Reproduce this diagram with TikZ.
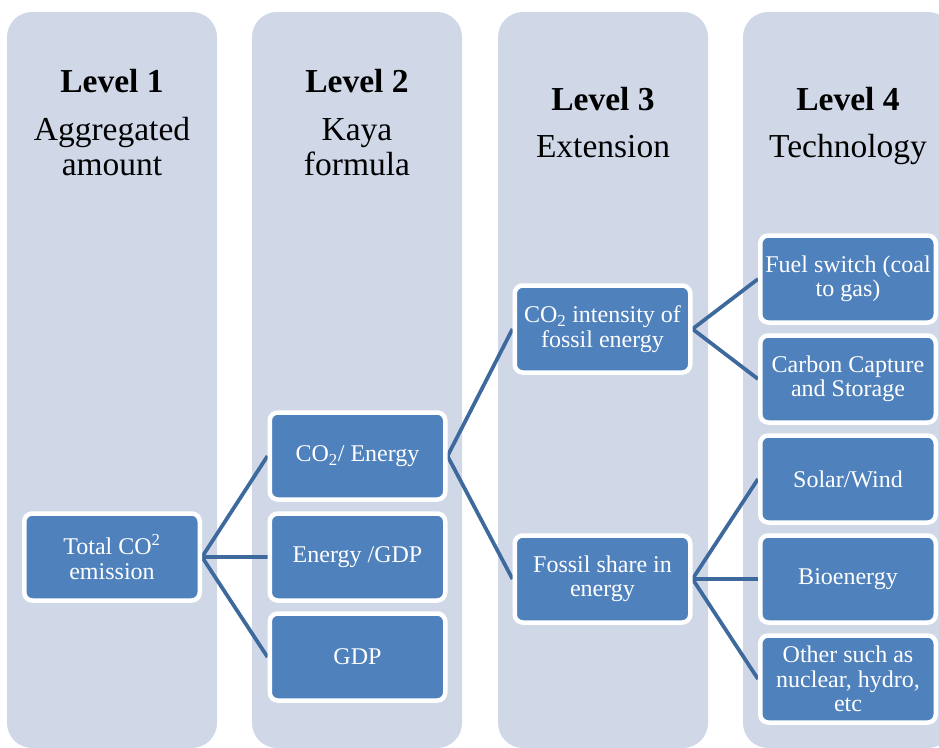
\documentclass[tikz,border=0pt]{standalone}
\usepackage{fontspec}
\setmainfont{Liberation Serif}
\usetikzlibrary{positioning, backgrounds}

\definecolor{colgray}{HTML}{D0D8E8}
\definecolor{boxblue}{HTML}{4F81BD}
\definecolor{linkblue}{RGB}{62,105,156}

\begin{document}
\begin{tikzpicture}[
  x=1pt, y=-1pt,
  col/.style={fill=colgray, rounded corners=25pt},
  lvl/.style={anchor=base, inner sep=0pt,
              font=\fontsize{33.5}{35}\selectfont\bfseries},
  sub/.style={anchor=base, inner sep=0pt,
              font=\fontsize{33.5}{35}\selectfont},
  box/.style={draw=white, line width=4.5pt, fill=boxblue, rounded corners=8pt,
              minimum width=175.5pt, minimum height=87pt, align=center,
              inner sep=1pt, text=white, font=\fontsize{24}{24.5}\selectfont},
  link/.style={draw=linkblue, line width=3.75pt}
]
\useasboundingbox (0,0) rectangle (939,747);

%% ---------- columns ----------
\begin{scope}[on background layer]
\foreach \x in {7,252,498,743}
  \fill[col] (\x,12) rectangle ++(210,736);
\end{scope}

%% ---------- headings ----------
\node[lvl] (lv1) at (112,92)  {Level 1};
\node[sub] (ag)  at (112,140) {Aggregated};
\node[sub] (am)  at (112,175) {amount};
\node[lvl] (lv2) at (357,92)  {Level 2};
\node[sub] (ka)  at (357,140) {Kaya};
\node[sub] (fo)  at (357,175) {formula};
\node[lvl] (lv3) at (603,110) {Level 3};
\node[sub] (ex)  at (603,157) {Extension};
\node[lvl] (lv4) at (848,110) {Level 4};
\node[sub] (te)  at (848,157) {Technology};

%% ---------- boxes ----------
\node[box] (total) at (112,557)   {Total CO\textsuperscript{2}\\emission};
\node[box] (ce)    at (357.5,456) {CO\textsubscript{2}/ Energy};
\node[box] (eg)    at (357.5,557) {Energy /GDP};
\node[box] (gdp)   at (357.5,657) {GDP};
\node[box] (ci)    at (602.5,329) {CO\textsubscript{2} intensity of\\fossil energy};
\node[box] (fs)    at (602.5,579) {Fossil share in\\energy};
\node[box] (fuel)  at (848,279)   {Fuel switch (coal\\to gas)};
\node[box] (ccs)   at (848,379)   {Carbon Capture\\and Storage};
\node[box] (sw)    at (848,479)   {Solar/Wind};
\node[box] (bio)   at (848,579)   {Bioenergy};
\node[box] (oth)   at (848,679)   {Other such as\\nuclear, hydro,\\etc};

%% ---------- links ----------
\begin{scope}[on background layer]
\foreach \a/\b in {total/ce, total/eg, total/gdp, ce/ci, ce/fs,
                   ci/fuel, ci/ccs, fs/sw, fs/bio, fs/oth}
  \draw[link] (\a.east) -- (\b.west);
\end{scope}
\end{tikzpicture}
\end{document}
